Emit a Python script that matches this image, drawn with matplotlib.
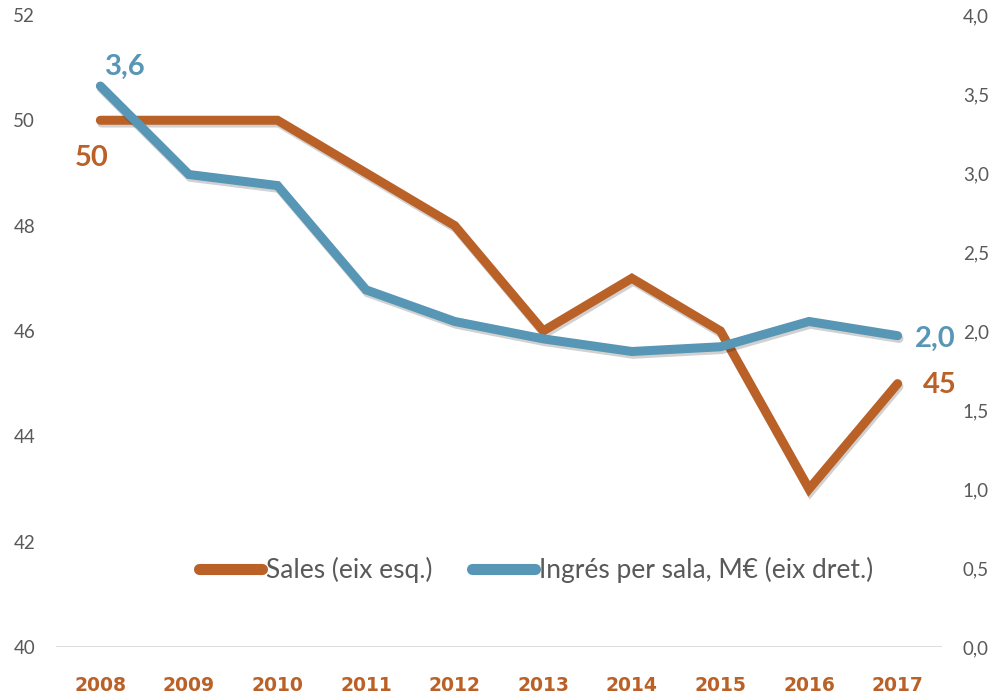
import matplotlib.pyplot as plt
import matplotlib.patheffects as pe

years = ["2008", "2009", "2010", "2011", "2012", "2013", "2014", "2015", "2016", "2017"]
sales = [50, 50, 50, 49, 48, 46, 47, 46, 43, 45]
ingres = [3.55, 2.99, 2.92, 2.26, 2.06, 1.95, 1.87, 1.90, 2.06, 1.97]
left_ticks = [40, 42, 44, 46, 48, 50, 52]
right_ticks = [0.0, 0.5, 1.0, 1.5, 2.0, 2.5, 3.0, 3.5, 4.0]

orange = "#BA6127"
blue = "#5796B5"
grey = "#595959"

plt.rcParams["font.family"] = ["Lato", "DejaVu Sans"]

fig = plt.figure(figsize=(9.92, 7.0), dpi=100)
ax = fig.add_axes([0.0565, 0.0757, 0.893, 0.903])
ax2 = ax.twinx()

x = list(range(len(years)))
shadow = [pe.SimpleLineShadow(offset=(1, -2), alpha=0.18, shadow_color="black"), pe.Normal()]

l1, = ax.plot(x, sales, color=orange, lw=6.5, solid_capstyle="round", solid_joinstyle="miter",
              path_effects=shadow, label="Sales (eix esq.)", zorder=3)
l2, = ax2.plot(x, ingres, color=blue, lw=6.5, solid_capstyle="round", solid_joinstyle="miter",
               path_effects=shadow, label="Ingrés per sala, M€ (eix dret.)", zorder=3)

ax.set_xlim(-0.5, len(years) - 0.5)
ax.set_ylim(40, 52)
ax2.set_ylim(0, 4)
ax.set_yticks(left_ticks)
ax.set_yticklabels([str(v) for v in left_ticks])
ax2.set_yticks(right_ticks)
ax2.set_yticklabels([f"{v:.1f}".replace(".", ",") for v in right_ticks])
ax.set_xticks(x)
ax.set_xticklabels(years, fontsize=22, fontweight="bold", color=orange,
                   family=["Liberation Sans Narrow", "DejaVu Sans"])

for a in (ax, ax2):
    for s in a.spines.values():
        s.set_visible(False)
    a.tick_params(length=0, labelsize=13.5, labelcolor=grey)
ax.tick_params(axis="y", pad=15)
ax2.tick_params(axis="y", pad=15)
ax.tick_params(axis="x", pad=21, labelcolor=orange)
ax.axhline(40, color="#D9D9D9", lw=2, zorder=1)

# data labels at first and last points
ax2.annotate("3,6", (x[0], ingres[0]), xytext=(18, 14), textcoords="offset points",
             ha="center", va="center", fontsize=21, fontweight="bold", color=blue)
ax.annotate("50", (x[0], sales[0]), xytext=(-6, -27), textcoords="offset points",
            ha="center", va="center", fontsize=21, fontweight="bold", color=orange)
ax2.annotate("2,0", (x[-1], ingres[-1]), xytext=(27, -2), textcoords="offset points",
             ha="center", va="center", fontsize=21, fontweight="bold", color=blue)
ax.annotate("45", (x[-1], sales[-1]), xytext=(30, -1), textcoords="offset points",
            ha="center", va="center", fontsize=21, fontweight="bold", color=orange)

leg = ax.legend(handles=[l1, l2], loc="center", bbox_to_anchor=(0.542, 0.122), ncol=2,
                frameon=False, fontsize=19, handlelength=2.4, handletextpad=0.15,
                columnspacing=1.5, labelcolor=grey)
for h in leg.legend_handles:
    h.set_path_effects([])
    h.set_linewidth(8)

fig.savefig("out.png", dpi=100)
